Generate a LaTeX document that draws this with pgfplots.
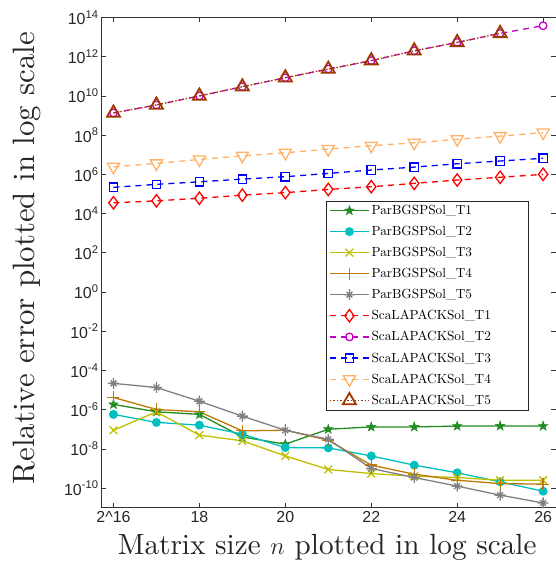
\documentclass[border=0pt]{standalone}
\usepackage{fontspec}
\usepackage{pgfplots}
\pgfplotsset{compat=1.18}
\newfontfamily\ticksf{Liberation Sans}
\newfontfamily\cmten{lmroman10-regular}[Extension=.otf, ItalicFont=lmroman10-italic]

\definecolor{cgreen}{rgb}{0.13,0.55,0.13}
\definecolor{ccyan}{rgb}{0,0.75,0.75}
\definecolor{cyel}{rgb}{0.75,0.75,0}
\definecolor{cbrown}{rgb}{0.74,0.47,0.02}
\definecolor{cgray}{rgb}{0.5,0.5,0.5}
\definecolor{cmag}{rgb}{0.78,0,0.78}
\definecolor{corange}{rgb}{1,0.7,0.4}
\definecolor{cdbrown}{rgb}{0.62,0.22,0}

\pgfdeclareplotmark{pentastar}{%
  \pgfpathmoveto{\pgfpointpolar{90}{\pgfplotmarksize}}%
  \pgfpathlineto{\pgfpointpolar{126}{0.4\pgfplotmarksize}}%
  \pgfpathlineto{\pgfpointpolar{162}{\pgfplotmarksize}}%
  \pgfpathlineto{\pgfpointpolar{198}{0.4\pgfplotmarksize}}%
  \pgfpathlineto{\pgfpointpolar{234}{\pgfplotmarksize}}%
  \pgfpathlineto{\pgfpointpolar{270}{0.4\pgfplotmarksize}}%
  \pgfpathlineto{\pgfpointpolar{306}{\pgfplotmarksize}}%
  \pgfpathlineto{\pgfpointpolar{342}{0.4\pgfplotmarksize}}%
  \pgfpathlineto{\pgfpointpolar{18}{\pgfplotmarksize}}%
  \pgfpathlineto{\pgfpointpolar{54}{0.4\pgfplotmarksize}}%
  \pgfpathclose\pgfusepathqfillstroke}

\pgfdeclareplotmark{asteight}{%
  \pgfpathmoveto{\pgfqpoint{-\pgfplotmarksize}{0pt}}\pgfpathlineto{\pgfqpoint{\pgfplotmarksize}{0pt}}%
  \pgfpathmoveto{\pgfqpoint{0pt}{-\pgfplotmarksize}}\pgfpathlineto{\pgfqpoint{0pt}{\pgfplotmarksize}}%
  \pgfpathmoveto{\pgfpointpolar{45}{0.75\pgfplotmarksize}}\pgfpathlineto{\pgfpointpolar{225}{0.75\pgfplotmarksize}}%
  \pgfpathmoveto{\pgfpointpolar{135}{0.75\pgfplotmarksize}}\pgfpathlineto{\pgfpointpolar{315}{0.75\pgfplotmarksize}}%
  \pgfusepathqstroke}

\newcommand{\lpad}{\hspace*{32bp}}

\begin{document}
\begin{tikzpicture}
\begin{axis}[
  scale only axis, width=455bp, height=490.2bp,
  xmin=15.71, xmax=26.3,
  ymode=log, ymin=1e-11, ymax=1e14,
  xtick={16,18,20,22,24,26},
  xticklabels={2\textasciicircum16,18,20,22,24,26},
  ytick={1e-10,1e-8,1e-6,1e-4,1e-2,1,1e2,1e4,1e6,1e8,1e10,1e12,1e14},
  yticklabels={10\textsuperscript{-10},10\textsuperscript{-8},10\textsuperscript{-6},10\textsuperscript{-4},10\textsuperscript{-2},10\textsuperscript{0},10\textsuperscript{2},10\textsuperscript{4},10\textsuperscript{6},10\textsuperscript{8},10\textsuperscript{10},10\textsuperscript{12},10\textsuperscript{14}},
  yminorticks=false, xminorticks=false,
  tick align=inside, xtick pos=both, ytick pos=both,
  major tick length=5bp,
  tick label style={font=\fontsize{16}{19}\selectfont\ticksf, text=black!85},
  yticklabel style={xshift=1bp},
  axis line style={black!80, line width=0.7bp},
  every tick/.style={black!80, line width=0.6bp},
  xlabel={Matrix size $n$ plotted in log scale},
  ylabel={Relative error plotted in log scale},
  xlabel style={font=\fontsize{29.3}{33}\selectfont\cmten, text=black!85, at={(axis description cs:0.497,0)}, anchor=base, yshift=-47bp},
  ylabel style={font=\fontsize{31}{36}\selectfont\cmten, text=black!85, at={(axis description cs:-0.1626,0.509)}, anchor=center},
  legend style={at={(axis description cs:0.4945,0.6257)}, anchor=north west,
    draw=black!85, fill=white,
    font=\fontsize{13.3}{15}\selectfont\cmten, inner xsep=3bp, inner ysep=2bp,
    row sep=6.2bp},
  legend cell align=left,
  legend image post style={line width=1.3bp},
  legend image code/.code={\draw[mark repeat=2,mark phase=2,#1] plot coordinates {(0cm,0cm) (0.69cm,0cm) (1.38cm,0cm)};},
]
\addplot[cgreen, line width=1.3bp, mark=pentastar, mark size=5bp, mark options={solid, fill=cgreen, line width=0.5bp}] coordinates {
(16,1.86e-6) (17,7.76e-7) (18,5.75e-7) (19,4.07e-8) (20,1.74e-8) (21,1.0e-7) (22,1.32e-7) (23,1.32e-7) (24,1.45e-7) (25,1.48e-7) (26,1.45e-7)};
\addlegendentry{ParBGSPSol\_T1\lpad}
\addplot[ccyan, line width=1.3bp, mark=*, mark size=3.8bp, mark options={solid, fill=ccyan}] coordinates {
(16,5.75e-7) (17,2.24e-7) (18,1.62e-7) (19,5.62e-8) (20,1.17e-8) (21,1.12e-8) (22,4.37e-9) (23,1.48e-9) (24,6.03e-10) (25,2.09e-10) (26,6.92e-11)};
\addlegendentry{ParBGSPSol\_T2\lpad}
\addplot[cyel, line width=1.3bp, mark=x, mark size=5.5bp, mark options={solid}] coordinates {
(16,8.91e-8) (17,7.76e-7) (18,5.01e-8) (19,2.57e-8) (20,4.37e-9) (21,8.91e-10) (22,5.50e-10) (23,4.07e-10) (24,3.47e-10) (25,2.51e-10) (26,2.51e-10)};
\addlegendentry{ParBGSPSol\_T3\lpad}
\addplot[cbrown, line width=1.3bp, mark=+, mark size=6bp, mark options={solid}] coordinates {
(16,4.17e-6) (17,1.02e-6) (18,7.76e-7) (19,8.32e-8) (20,8.91e-8) (21,2.75e-8) (22,1.48e-9) (23,5.13e-10) (24,2.51e-10) (25,1.70e-10) (26,1.58e-10)};
\addlegendentry{ParBGSPSol\_T4\lpad}
\addplot[cgray, line width=1.3bp, mark=asteight, mark size=5.5bp, mark options={solid}] coordinates {
(16,2.19e-5) (17,1.35e-5) (18,2.69e-6) (19,4.68e-7) (20,8.91e-8) (21,3.09e-8) (22,1.0e-9) (23,3.47e-10) (24,1.26e-10) (25,4.37e-11) (26,1.74e-11)};
\addlegendentry{ParBGSPSol\_T5\lpad}
\addplot[red, line width=1.3bp, dash pattern=on 6bp off 5bp, mark=diamond, mark size=6.2bp, mark options={solid}] coordinates {
(16,3.55e4) (17,4.47e4) (18,6.03e4) (19,8.71e4) (20,1.17e5) (21,1.70e5) (22,2.34e5) (23,3.47e5) (24,5.13e5) (25,7.08e5) (26,1.0e6)};
\addlegendentry{ScaLAPACKSol\_T1\lpad}
\addplot[cmag, line width=1.3bp, dash pattern=on 6bp off 5bp, mark=o, mark size=3.8bp, mark options={solid}] coordinates {
(16,1.35e9) (17,3.47e9) (18,1.0e10) (19,2.95e10) (20,8.51e10) (21,2.34e11) (22,6.31e11) (23,2.0e12) (24,5.37e12) (25,1.55e13) (26,3.8e13)};
\addlegendentry{ScaLAPACKSol\_T2\lpad}
\addplot[blue, line width=1.3bp, dash pattern=on 6bp off 5bp, mark=square, mark size=4.2bp, mark options={solid}] coordinates {
(16,2.19e5) (17,3.09e5) (18,4.17e5) (19,5.75e5) (20,7.59e5) (21,1.12e6) (22,1.66e6) (23,2.34e6) (24,3.47e6) (25,4.79e6) (26,6.61e6)};
\addlegendentry{ScaLAPACKSol\_T3\lpad}
\addplot[corange, line width=1.3bp, dash pattern=on 6bp off 5bp, mark=triangle, mark size=7bp, mark options={solid, rotate=180}] coordinates {
(16,2.45e6) (17,3.63e6) (18,5.75e6) (19,8.91e6) (20,1.26e7) (21,1.95e7) (22,2.88e7) (23,4.07e7) (24,6.17e7) (25,8.91e7) (26,1.35e8)};
\addlegendentry{ScaLAPACKSol\_T4\lpad}
\addplot[cdbrown, line width=1.3bp, dash pattern=on 1.5bp off 2bp, mark=triangle, mark size=7.5bp, mark options={solid, line width=1.8bp}] coordinates {
(16,1.35e9) (17,3.47e9) (18,1.0e10) (19,2.95e10) (20,8.51e10) (21,2.34e11) (22,6.31e11) (23,2.0e12) (24,5.37e12) (25,1.55e13)};
\addlegendentry{ScaLAPACKSol\_T5\lpad}
\end{axis}
\pgfresetboundingbox
\path ([shift={(-101bp,-57.3bp)}]current axis.south west) rectangle ([shift={(-1bp,17.5bp)}]current axis.north east);
\end{tikzpicture}
\end{document}
